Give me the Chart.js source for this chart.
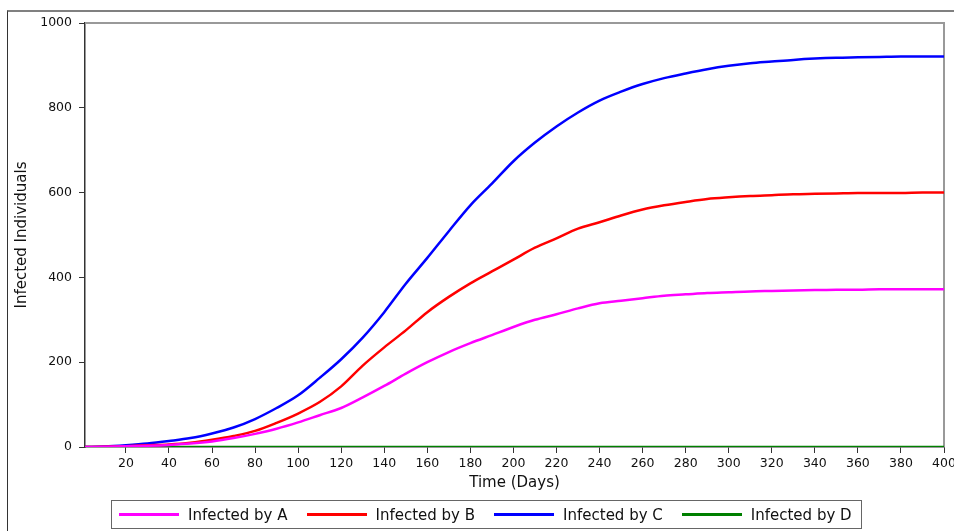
<!DOCTYPE html>
<html>
<head>
<meta charset="utf-8">
<script src="https://cdn.jsdelivr.net/npm/chart.js@4"></script>
<style>
  html, body { margin:0; padding:0; background:#fff; overflow:hidden; }
  #wrap { position:relative; width:954px; height:531px; }
  #frame { position:absolute; left:7px; top:10px; width:1000px; height:600px;
           border-top:2px solid #808080; border-left:1px solid #333; }
  canvas { position:absolute; left:0; top:0; }
  #legend { position:absolute; left:111px; top:500px; width:751px; height:29px;
            border:1px solid #666; display:flex; align-items:center; padding-left:7px;
            box-sizing:border-box; font-family:"DejaVu Sans", sans-serif; font-size:15px;
            color:#111; white-space:nowrap; }
  .item { display:flex; align-items:center; margin-right:19px; }
  .swatch { width:60px; height:3px; margin-right:9px; }
</style>
</head>
<body>
<div id="wrap">
  <div id="frame"></div>
  <canvas id="chart" width="954" height="531"></canvas>
  <div id="legend"></div>
</div>
<script>
// time steps (days)
const days = [1,10,20,30,40,50,60,70,80,90,100,110,120,130,140,150,160,170,180,190,200,
  210,220,230,240,250,260,270,280,290,300,310,320,330,340,350,360,370,380,390,400];

const infectedA = [0,0.5,1.5,3,5,8,13,21,31,43,58,75,92,117,144,173,200,224,245,264,283,
  300,313,327,339,345,351,357,360,363,365,367,368,369,370,371,371,372,372,372,372];
const infectedB = [0,0.5,2,4,6,10,17,26,38,57,79,106,143,192,235,275,318,354,386,414,442,
  470,492,515,530,546,560,570,578,585,589,592,594,596,597,598,599,599,599,600,600];
const infectedC = [0,1,4,8,14,21,32,46,66,92,122,163,207,258,318,385,446,509,570,621,674,
  718,756,789,817,838,856,870,881,891,899,905,909,913,916,918,919,920,921,921,921];
const infectedD = days.map(() => 0);

const xTicks = [20,40,60,80,100,120,140,160,180,200,220,240,260,280,300,320,340,360,380,400];
const yTicks = [0,200,400,600,800,1000];

const names = ["Infected by A","Infected by B","Infected by C","Infected by D"];
const colors = ["#ff00ff","#ff0000","#0000ff","#008000"];
const series = [infectedA, infectedB, infectedC, infectedD];

const tickFont = { family:"DejaVu Sans", size:12.5 };
const titleFont = { family:"DejaVu Sans", size:15 };

// top and right edges of the plot box
const boxEdges = {
  id:'boxEdges',
  beforeDatasetsDraw(c){
    const a = c.chartArea, ctx = c.ctx;
    ctx.save();
    ctx.strokeStyle = '#999';
    ctx.lineWidth = 2;
    ctx.beginPath();
    ctx.moveTo(a.left, a.top);
    ctx.lineTo(a.right, a.top);
    ctx.lineTo(a.right, a.bottom);
    ctx.stroke();
    ctx.restore();
  }
};

const chart = new Chart(document.getElementById("chart"), {
  type:'line',
  data:{
    datasets: series.map((s,i) => ({
      label: names[i],
      data: s.map((v,j) => ({x: days[j], y: v})),
      borderColor: colors[i],
      borderWidth: 2.5,
      pointRadius: 0,
      fill: false,
      cubicInterpolationMode: 'monotone'
    }))
  },
  options:{
    responsive:false,
    animation:false,
    layout:{ padding:{ left:0, top:23, right:10, bottom:0 } },
    plugins:{ legend:{ display:false }, tooltip:{ enabled:false } },
    scales:{
      x:{
        type:'linear', min:1, max:400,
        afterBuildTicks: s => { s.ticks = xTicks.map(v => ({value:v})); },
        afterFit: s => { s.height = 84; s.paddingLeft = 0; s.paddingRight = 0; },
        grid:{ drawOnChartArea:false, tickLength:6, color:'#333' },
        border:{ color:'#333', width:1.5 },
        ticks:{ font:tickFont, color:'#111', padding:3, maxRotation:0, autoSkip:false,
                callback: v => String(v) },
        title:{ display:true, text:'Time (Days)', font:titleFont, color:'#111', padding:{bottom:39} }
      },
      y:{
        min:0, max:1000,
        afterBuildTicks: s => { s.ticks = yTicks.map(v => ({value:v})); },
        afterFit: s => { s.width = 85; s.paddingTop = 0; s.paddingBottom = 0; },
        grid:{ drawOnChartArea:false, tickLength:6, color:'#333' },
        border:{ color:'#333', width:1.5 },
        ticks:{ font:tickFont, color:'#111', padding:7, callback: v => String(v) },
        title:{ display:true, text:'Infected Individuals', font:titleFont, color:'#111', padding:{top:13} }
      }
    }
  },
  plugins:[boxEdges]
});

// legend built from the chart's datasets
const legend = document.getElementById("legend");
chart.data.datasets.forEach(ds => {
  legend.innerHTML += `<div class="item"><div class="swatch" style="background:${ds.borderColor}"></div>${ds.label}</div>`;
});
</script>
</body>
</html>
